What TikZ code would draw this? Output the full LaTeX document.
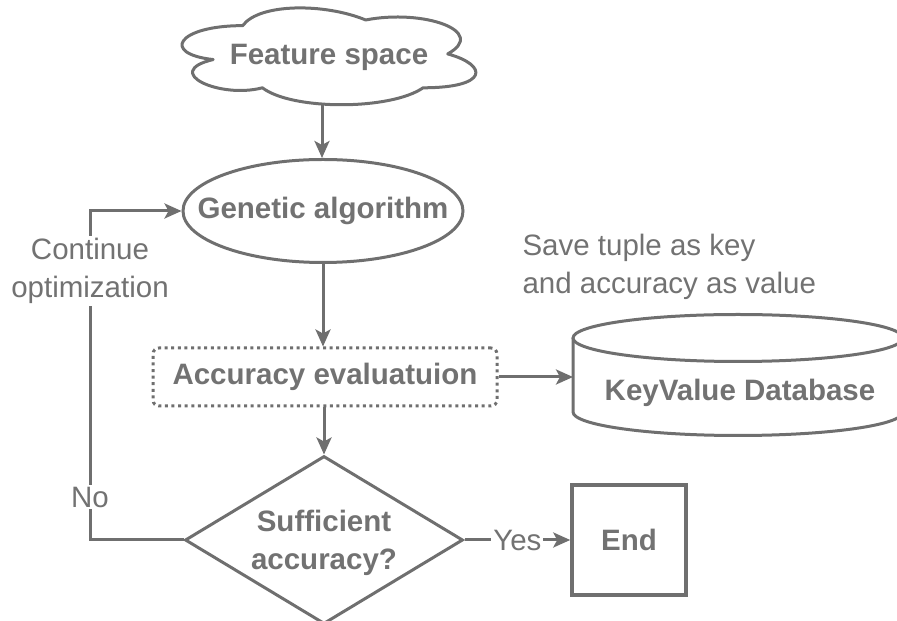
\documentclass[tikz,border=0pt]{standalone}
\usepackage{fontspec}
\setmainfont{Liberation Sans}
\usetikzlibrary{shapes.geometric,arrows.meta}
\definecolor{ink}{HTML}{6F6F6F}
\definecolor{txt}{HTML}{727272}
\tikzset{
  base/.style={text=txt, font=\fontsize{29.5}{38}\selectfont},
  boldtxt/.style={base, font=\bfseries\fontsize{29.5}{38}\selectfont},
  shapeline/.style={draw=ink, line width=3pt},
  flow/.style={draw=ink, line width=3pt, -{Stealth[length=17pt,width=15pt,inset=4pt]}},
  plain/.style={draw=ink, line width=3pt},
  lbl/.style={base, fill=white, inner sep=2pt, align=center},
}
\begin{document}
\begin{tikzpicture}[x=1pt,y=1pt]
\useasboundingbox (0,0) rectangle (897,621);

% cloud outline, drawn in a unit box (x to the right, y downwards)
\begin{scope}[shift={(160.7,623.6)}, x=328pt, y=-113pt]
  \draw[plain, line join=round]
    (0.25,0.25) .. controls (0.05,0.25) and (0,0.5) .. (0.16,0.55)
    .. controls (0,0.66) and (0.18,0.9) .. (0.31,0.8)
    .. controls (0.4,1) and (0.7,1) .. (0.8,0.8)
    .. controls (1,0.8) and (1,0.6) .. (0.875,0.5)
    .. controls (1,0.3) and (0.8,0.1) .. (0.625,0.2)
    .. controls (0.5,0.05) and (0.3,0.05) .. (0.25,0.25) -- cycle;
\end{scope}
\node[boldtxt] (fs) at (329,564) {Feature space};
\coordinate (fsbottom) at (322,516);

% process nodes (shape size fixed, text placed as a centred label)
\node[ellipse, shapeline, minimum width=280pt, minimum height=103pt, inner sep=0pt,
      label={[boldtxt]center:Genetic algorithm}] (ga) at (323,410) {};
\node[rectangle, draw=ink, line width=3pt, dash pattern=on 3pt off 3.6pt, rounded corners=6pt,
      minimum width=344pt, minimum height=58pt, boldtxt] (acc) at (325,244) {Accuracy evaluatuion};
\node[diamond, shapeline, aspect=1.65, minimum width=278pt, minimum height=168pt, inner sep=0pt,
      label={[boldtxt, align=center, yshift=-3pt]center:Sufficient\\accuracy?}] (dec) at (324,81) {};
\node[rectangle, draw=ink, line width=3.5pt, minimum width=114pt, minimum height=110pt, boldtxt] (end) at (629,81) {End};

% key-value store drawn as a cylinder
\draw[plain] (573,283) -- (573,209) arc[start angle=180, end angle=360, x radius=165, y radius=23.5] -- (903,283);
\draw[plain, fill=white] (738,283) ellipse[x radius=165, y radius=23.5];
\node[boldtxt] (dbtext) at (740,228) {KeyValue Database};
\coordinate (db) at (573,244);

% connectors
\draw[flow] (fsbottom) -- (fsbottom |- ga.north);
\draw[flow] (ga.south) -- (ga.south |- acc.north);
\draw[flow] (acc.south -| dec.north) -- (dec.north);
\draw[flow] (acc.east) -- (db);
\draw[flow] (dec.east) -- node[lbl] (yes) {Yes} (end.west);

% retry loop
\coordinate (lb) at (90,81);
\coordinate (lt) at (90,410);
\draw[flow] (dec.west) -- (lb) -- (lt) -- (ga.west);
\node[lbl] (no) at (90,124) {No};
\node[lbl] (cont) at (90,350) {Continue\\optimization};

% annotation
\node[base, anchor=west, align=left] (note) at (519,354) {Save tuple as key\\and accuracy as value};
\end{tikzpicture}
\end{document}
